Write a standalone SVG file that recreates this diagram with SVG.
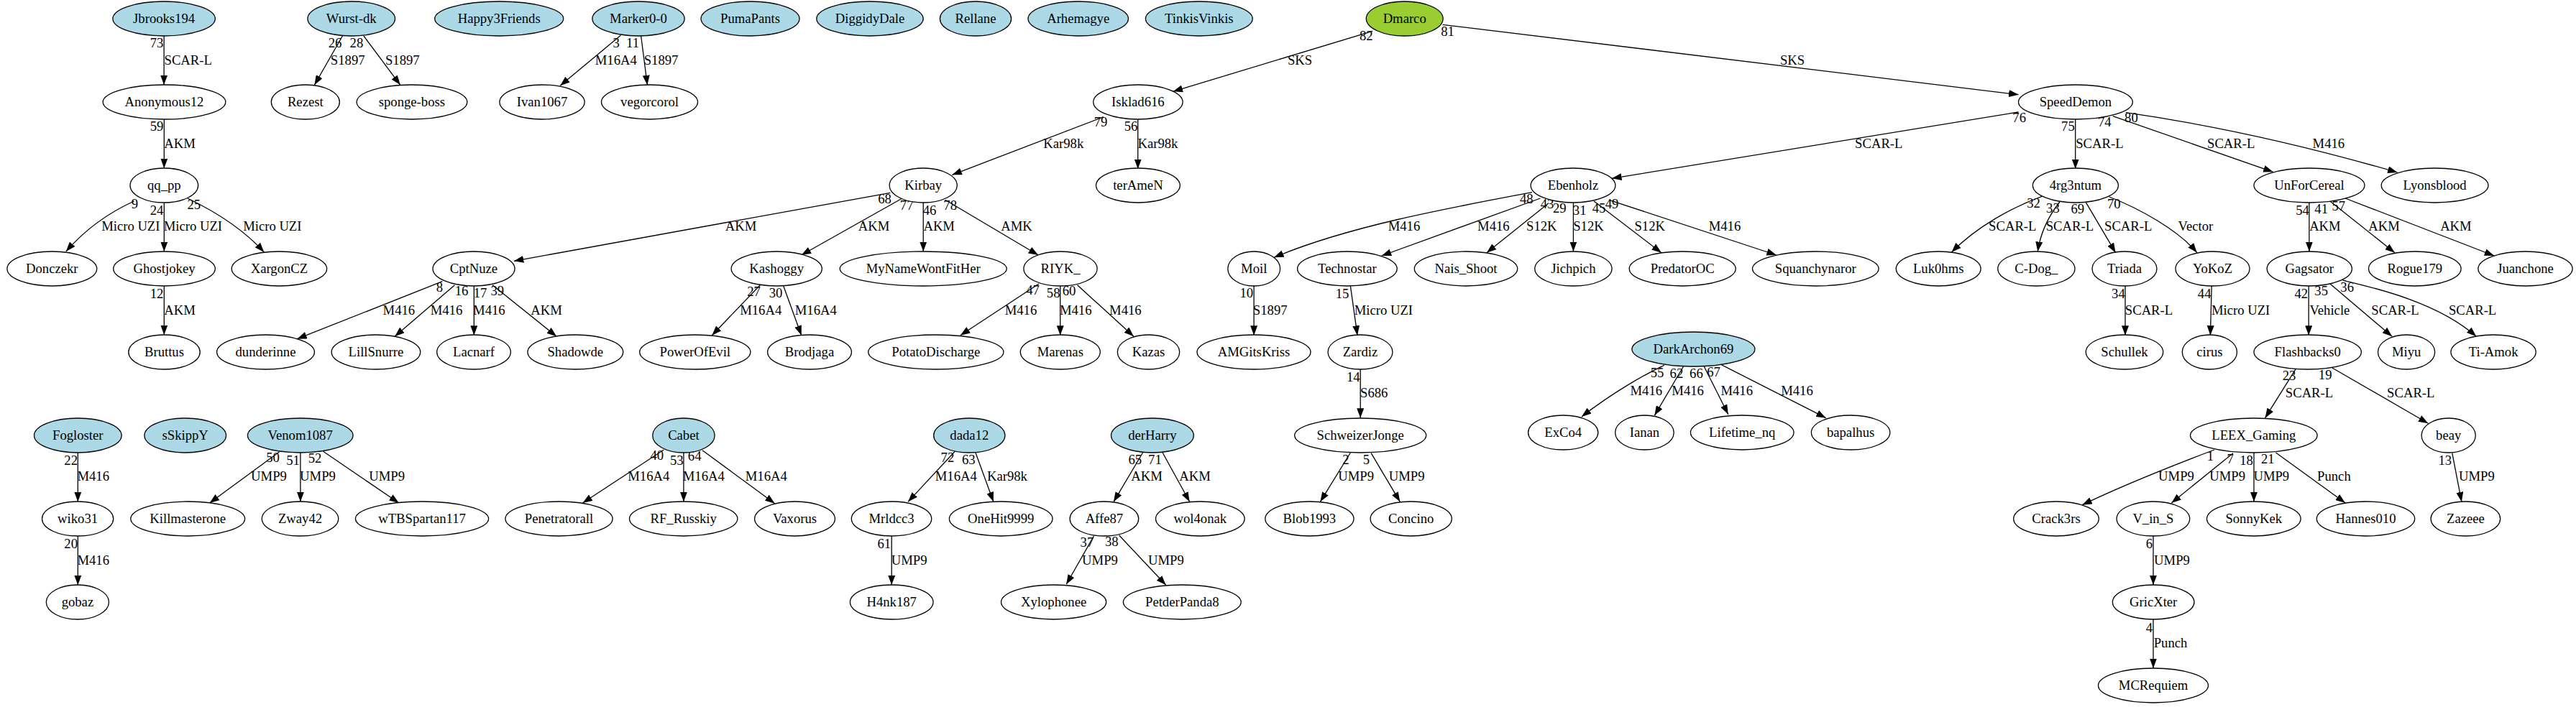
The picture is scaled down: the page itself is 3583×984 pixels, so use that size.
<svg xmlns="http://www.w3.org/2000/svg" width="3583" height="984" viewBox="0 0 3583 984">
<style>
text{font-family:"Liberation Serif","Times New Roman",serif;font-size:18.67px;fill:#000}
.n ellipse{fill:#fff;stroke:#000;stroke-width:1.3}
.lb ellipse{fill:#add8e6}
.yg ellipse{fill:#9acd32}
.n text,.l text{text-anchor:middle}
.e path{fill:none;stroke:#000;stroke-width:1.3;marker-end:url(#a)}
</style>
<defs>
<marker id="a" markerUnits="userSpaceOnUse" markerWidth="14" markerHeight="10" refX="13.5" refY="5" orient="auto"><path d="M0,0 L13.5,5 L0,10 Z" fill="#000"/></marker>
</defs>
<rect width="3583" height="984" fill="#fff"/>
<g id="edges" class="e">
<path d="M228.1,50 L228.1,118"/>
<path d="M228.3,166 L228.3,234"/>
<path d="M186.4,280 C160,292 125,312 91.8,350"/>
<path d="M228.3,282 L228.3,350"/>
<path d="M261,276 C290,290 335,315 367.3,351"/>
<path d="M228.3,398 L228.3,466"/>
<path d="M476.4,50 L437.4,118.3"/>
<path d="M505.9,50 L556.8,118.3"/>
<path d="M863.3,49.3 L779.1,119.3"/>
<path d="M891.6,50 L900.4,118.3"/>
<path d="M1909,43.3 L1631.6,127.3"/>
<path d="M2006.6,34.3 L2807.5,131.7"/>
<path d="M1534.8,162.7 L1324.4,243.3"/>
<path d="M1582.7,166 L1582.7,235"/>
<path d="M2807.5,156 L2242,248.3"/>
<path d="M2886.7,166 L2886.7,235"/>
<path d="M2938.8,161.7 L3161.7,239.3"/>
<path d="M2956.8,156.7 C3050,170 3180,195 3334.6,240"/>
<path d="M1238.3,268.3 L714.8,363.3"/>
<path d="M1253.6,276.7 L1114.7,355"/>
<path d="M1284.2,282 L1284.2,350"/>
<path d="M1314.8,278.3 L1444.1,355"/>
<path d="M2131,267.7 C2011,290 1872,316 1772.1,358.3"/>
<path d="M2142.5,276 L1921.7,356"/>
<path d="M2154,282.7 L2067.9,351.7"/>
<path d="M2188.4,282 L2188.4,350"/>
<path d="M2217.1,280 L2310.8,351.7"/>
<path d="M2238.1,278.3 L2470.8,355"/>
<path d="M2840,273.3 C2800,288 2750,315 2714.5,351"/>
<path d="M2864.9,281 C2850,300 2838,325 2834.3,350"/>
<path d="M2901.3,281.7 L2942.6,351.7"/>
<path d="M2933.8,274 C2975,290 3030,320 3055.8,351.7"/>
<path d="M3211.9,282 L3211.9,350"/>
<path d="M3240.9,280 L3330.9,351.7"/>
<path d="M3262.1,276 L3469.2,356"/>
<path d="M615.3,391.7 L413.3,471.7"/>
<path d="M632.5,396.7 L549.1,468.3"/>
<path d="M659.3,398 L659.3,466.7"/>
<path d="M685,396.7 L774.1,468.3"/>
<path d="M1057.3,396.7 L990.3,466.7"/>
<path d="M1089.8,398.3 L1114.7,466.7"/>
<path d="M1444.9,395 L1335.8,466.7"/>
<path d="M1474.7,398 L1474.7,466.7"/>
<path d="M1498.5,396.7 L1576.9,468.3"/>
<path d="M1744.1,398 L1744.1,466.7"/>
<path d="M1878.4,398.3 L1888,466.7"/>
<path d="M2956,398 L2956,466.7"/>
<path d="M3076.2,398.3 L3074.4,466.7"/>
<path d="M3211.2,398 L3211.2,466.7"/>
<path d="M3240.9,395 L3327.2,468.3"/>
<path d="M3258.4,390 C3300,400 3390,420 3444.3,468.3"/>
<path d="M108.3,630 L108.3,698.3"/>
<path d="M108.3,746 L108.3,814.3"/>
<path d="M388.4,629 L291.6,700"/>
<path d="M417.9,630 L417.9,698.3"/>
<path d="M449.6,628.3 L554.8,700"/>
<path d="M923.3,626 L810.5,700"/>
<path d="M950.9,630 L950.9,698.3"/>
<path d="M976.9,626.7 L1077.6,700.7"/>
<path d="M1328.2,628.3 L1263.1,698.3"/>
<path d="M1356.9,630 L1381.8,698.3"/>
<path d="M1240.2,746 L1240.2,814.3"/>
<path d="M1589.5,630 L1549,698.3"/>
<path d="M1617.1,630 L1654.6,698.3"/>
<path d="M1521.4,746 L1483.2,813.3"/>
<path d="M1556.6,745 L1621.7,814.3"/>
<path d="M1892.2,514 L1892.2,581.7"/>
<path d="M1878.4,630 L1836.4,698.3"/>
<path d="M1907.1,630.7 L1947.3,698.3"/>
<path d="M2314.7,508.3 C2290,520 2245,545 2199.9,580"/>
<path d="M2341.5,510 L2301.3,578.3"/>
<path d="M2370.2,510 L2403.8,576.7"/>
<path d="M2393,507 L2539.7,581.7"/>
<path d="M3193.3,513.3 L3150.6,581.7"/>
<path d="M3243.5,511.7 L3377.4,589.3"/>
<path d="M3080,626 C3030,645 2960,672 2896.3,702.7"/>
<path d="M3106,630.7 L3020.4,700"/>
<path d="M3135,630 L3135,698.3"/>
<path d="M3165.5,630 L3262.1,700"/>
<path d="M3410.8,630.7 L3423.9,698.3"/>
<path d="M2995,746 L2995,814.3"/>
<path d="M2995,862 L2995,930"/>
</g>
<g id="edge-labels" class="l">
<text x="261.7" y="89.6">SCAR-L</text>
<text x="250" y="206.3">AKM</text>
<text x="181.8" y="321.3">Micro UZI</text>
<text x="268.4" y="321.3">Micro UZI</text>
<text x="378.8" y="321.3">Micro UZI</text>
<text x="250" y="438">AKM</text>
<text x="483.7" y="89.6">S1897</text>
<text x="559.8" y="89.6">S1897</text>
<text x="856.8" y="89.6">M16A4</text>
<text x="919.6" y="89.6">S1897</text>
<text x="1808" y="89.6">SKS</text>
<text x="2493" y="89.6">SKS</text>
<text x="1479.3" y="206.3">Kar98k</text>
<text x="1610.4" y="206.3">Kar98k</text>
<text x="2613.3" y="206.3">SCAR-L</text>
<text x="2920.4" y="206.3">SCAR-L</text>
<text x="3103.2" y="206.3">SCAR-L</text>
<text x="3238.9" y="206.3">M416</text>
<text x="1030.5" y="321.3">AKM</text>
<text x="1215.5" y="321.3">AKM</text>
<text x="1306.2" y="321.3">AKM</text>
<text x="1414.1" y="321.3">AMK</text>
<text x="1953" y="321.3">M416</text>
<text x="2077.4" y="321.3">M416</text>
<text x="2144.3" y="321.3">S12K</text>
<text x="2209.5" y="321.3">S12K</text>
<text x="2294.7" y="321.3">S12K</text>
<text x="2399" y="321.3">M416</text>
<text x="2799.3" y="321.3">SCAR-L</text>
<text x="2878.9" y="321.3">SCAR-L</text>
<text x="2960.2" y="321.3">SCAR-L</text>
<text x="3053.9" y="321.3">Vector</text>
<text x="3233.9" y="321.3">AKM</text>
<text x="3316" y="321.3">AKM</text>
<text x="3415.9" y="321.3">AKM</text>
<text x="554.9" y="438">M416</text>
<text x="621" y="438">M416</text>
<text x="680.4" y="438">M416</text>
<text x="760" y="438">AKM</text>
<text x="1058.2" y="438">M16A4</text>
<text x="1134.8" y="438">M16A4</text>
<text x="1420" y="438">M416</text>
<text x="1496.2" y="438">M416</text>
<text x="1565.4" y="438">M416</text>
<text x="1766.7" y="438">S1897</text>
<text x="1924.4" y="438">Micro UZI</text>
<text x="2989" y="438">SCAR-L</text>
<text x="3116.6" y="438">Micro UZI</text>
<text x="3240.4" y="438">Vehicle</text>
<text x="3331.5" y="438">SCAR-L</text>
<text x="3439.1" y="438">SCAR-L</text>
<text x="129.7" y="669">M416</text>
<text x="129.7" y="785.6">M416</text>
<text x="374" y="669">UMP9</text>
<text x="442" y="669">UMP9</text>
<text x="538.2" y="669">UMP9</text>
<text x="902.3" y="669">M16A4</text>
<text x="978.8" y="669">M16A4</text>
<text x="1065.8" y="669">M16A4</text>
<text x="1329.8" y="669">M16A4</text>
<text x="1400.9" y="669">Kar98k</text>
<text x="1264.6" y="785.6">UMP9</text>
<text x="1595.1" y="669">AKM</text>
<text x="1662" y="669">AKM</text>
<text x="1530" y="785.6">UMP9</text>
<text x="1621.9" y="785.6">UMP9</text>
<text x="1911.2" y="553">S686</text>
<text x="1886.1" y="669">UMP9</text>
<text x="1956.7" y="669">UMP9</text>
<text x="2289.8" y="549.6">M416</text>
<text x="2347.6" y="549.6">M416</text>
<text x="2415.7" y="549.6">M416</text>
<text x="2499.5" y="549.6">M416</text>
<text x="3212" y="553">SCAR-L</text>
<text x="3353.3" y="553">SCAR-L</text>
<text x="3027" y="669">UMP9</text>
<text x="3098.2" y="669">UMP9</text>
<text x="3159.3" y="669">UMP9</text>
<text x="3246.4" y="669">Punch</text>
<text x="3444.9" y="669">UMP9</text>
<text x="3021" y="785.6">UMP9</text>
<text x="3019" y="901.3">Punch</text>
<text x="218.1" y="66.3">73</text>
<text x="218.1" y="182">59</text>
<text x="187.5" y="289.6">9</text>
<text x="218.1" y="299">24</text>
<text x="269.8" y="291.3">25</text>
<text x="218.1" y="414.6">12</text>
<text x="466.1" y="65.6">26</text>
<text x="495.9" y="65.6">28</text>
<text x="857.1" y="65.6">3</text>
<text x="880.1" y="66.3">11</text>
<text x="1900.3" y="56.3">82</text>
<text x="2013.5" y="49.6">81</text>
<text x="1531" y="175.6">79</text>
<text x="1573.1" y="182.3">56</text>
<text x="2808.7" y="170.3">76</text>
<text x="2876.4" y="182.3">75</text>
<text x="2927.3" y="176.3">74</text>
<text x="2964.4" y="170.3">80</text>
<text x="1230.6" y="283">68</text>
<text x="1261.2" y="292.3">77</text>
<text x="1293" y="299">46</text>
<text x="1321.7" y="292.3">78</text>
<text x="2123.3" y="283">48</text>
<text x="2152" y="289.6">43</text>
<text x="2169.3" y="295.6">29</text>
<text x="2197.2" y="299">31</text>
<text x="2224" y="296.3">45</text>
<text x="2242" y="289.6">49</text>
<text x="2828.6" y="289">32</text>
<text x="2855.4" y="296.3">33</text>
<text x="2889.8" y="297.3">69</text>
<text x="2940.3" y="289.6">70</text>
<text x="3202.6" y="299">54</text>
<text x="3228.7" y="297">41</text>
<text x="3252.8" y="293">57</text>
<text x="611.5" y="406.3">8</text>
<text x="642.1" y="411.3">16</text>
<text x="668.1" y="413.6">17</text>
<text x="691.8" y="411.3">39</text>
<text x="1048.5" y="412.3">27</text>
<text x="1079.1" y="413.6">30</text>
<text x="1436.5" y="410.3">47</text>
<text x="1465.2" y="413.6">58</text>
<text x="1487" y="411.3">60</text>
<text x="1733.8" y="413.6">10</text>
<text x="1867" y="414.6">15</text>
<text x="2946.4" y="414.6">34</text>
<text x="3066.2" y="414.6">44</text>
<text x="3200.8" y="414.6">42</text>
<text x="3228.7" y="411.3">35</text>
<text x="3264.7" y="405.6">36</text>
<text x="98.7" y="647.3">22</text>
<text x="98.7" y="763">20</text>
<text x="379.6" y="643">50</text>
<text x="407.5" y="647">51</text>
<text x="438.1" y="643.6">52</text>
<text x="913.8" y="640.3">40</text>
<text x="941.3" y="647">53</text>
<text x="966.2" y="641.3">64</text>
<text x="1317.9" y="643">72</text>
<text x="1347.3" y="645.6">63</text>
<text x="1229.8" y="763">61</text>
<text x="1578.8" y="645.6">65</text>
<text x="1606.4" y="645.6">71</text>
<text x="1511.9" y="760.6">37</text>
<text x="1546.3" y="759.6">38</text>
<text x="1882.3" y="530.6">14</text>
<text x="1871.9" y="645.6">2</text>
<text x="1900.3" y="645.6">5</text>
<text x="2305.1" y="524.6">55</text>
<text x="2331.9" y="525.6">62</text>
<text x="2359.4" y="525.6">66</text>
<text x="2383.5" y="523.6">67</text>
<text x="3184" y="529">23</text>
<text x="3234.2" y="528">19</text>
<text x="3074.4" y="641.3">1</text>
<text x="3102.2" y="644.6">7</text>
<text x="3124.6" y="647">18</text>
<text x="3154.3" y="644.6">21</text>
<text x="3400.8" y="647">13</text>
<text x="2989.3" y="763">6</text>
<text x="2989.3" y="879.6">4</text>
</g>
<g id="n-Jbrooks194" class="n lb"><ellipse cx="228.1" cy="26" rx="71.2" ry="24"/><text x="228.1" y="32.3">Jbrooks194</text></g>
<g id="n-Wurst-dk" class="n lb"><ellipse cx="488.7" cy="26" rx="60.8" ry="24"/><text x="488.7" y="32.3">Wurst-dk</text></g>
<g id="n-Happy3Friends" class="n lb"><ellipse cx="694.2" cy="26" rx="89.5" ry="24"/><text x="694.2" y="32.3">Happy3Friends</text></g>
<g id="n-Marker0-0" class="n lb"><ellipse cx="888" cy="26" rx="64.1" ry="24"/><text x="888" y="32.3">Marker0-0</text></g>
<g id="n-PumaPants" class="n lb"><ellipse cx="1043.5" cy="26" rx="68.5" ry="24"/><text x="1043.5" y="32.3">PumaPants</text></g>
<g id="n-DiggidyDale" class="n lb"><ellipse cx="1210" cy="26" rx="74.2" ry="24"/><text x="1210" y="32.3">DiggidyDale</text></g>
<g id="n-Rellane" class="n lb"><ellipse cx="1357" cy="26" rx="49.6" ry="24"/><text x="1357" y="32.3">Rellane</text></g>
<g id="n-Arhemagye" class="n lb"><ellipse cx="1499.7" cy="26" rx="69.7" ry="24"/><text x="1499.7" y="32.3">Arhemagye</text></g>
<g id="n-TinkisVinkis" class="n lb"><ellipse cx="1667.8" cy="26" rx="74.4" ry="24"/><text x="1667.8" y="32.3">TinkisVinkis</text></g>
<g id="n-Dmarco" class="n yg"><ellipse cx="1953.7" cy="26" rx="53.4" ry="24"/><text x="1953.7" y="32.3">Dmarco</text></g>
<g id="n-Anonymous12" class="n"><ellipse cx="228.5" cy="142" rx="85.3" ry="24"/><text x="228.5" y="148.3">Anonymous12</text></g>
<g id="n-Rezest" class="n"><ellipse cx="424.8" cy="142" rx="47.5" ry="24"/><text x="424.8" y="148.3">Rezest</text></g>
<g id="n-sponge-boss" class="n"><ellipse cx="572.9" cy="142" rx="76.9" ry="24"/><text x="572.9" y="148.3">sponge-boss</text></g>
<g id="n-Ivan1067" class="n"><ellipse cx="754" cy="142" rx="59.1" ry="24"/><text x="754" y="148.3">Ivan1067</text></g>
<g id="n-vegorcorol" class="n"><ellipse cx="903.5" cy="142" rx="67" ry="24"/><text x="903.5" y="148.3">vegorcorol</text></g>
<g id="n-Isklad616" class="n"><ellipse cx="1582.9" cy="142" rx="62.2" ry="24"/><text x="1582.9" y="148.3">Isklad616</text></g>
<g id="n-SpeedDemon" class="n"><ellipse cx="2886.9" cy="142" rx="79.4" ry="24"/><text x="2886.9" y="148.3">SpeedDemon</text></g>
<g id="n-qq_pp" class="n"><ellipse cx="228.3" cy="258" rx="47.3" ry="24"/><text x="228.3" y="264.3">qq_pp</text></g>
<g id="n-Kirbay" class="n"><ellipse cx="1284.2" cy="258" rx="47.1" ry="24"/><text x="1284.2" y="264.3">Kirbay</text></g>
<g id="n-terAmeN" class="n"><ellipse cx="1582.9" cy="258" rx="58.4" ry="24"/><text x="1582.9" y="264.3">terAmeN</text></g>
<g id="n-Ebenholz" class="n"><ellipse cx="2188" cy="258" rx="58.9" ry="24"/><text x="2188" y="264.3">Ebenholz</text></g>
<g id="n-4rg3ntum" class="n"><ellipse cx="2886.9" cy="258" rx="59.5" ry="24"/><text x="2886.9" y="264.3">4rg3ntum</text></g>
<g id="n-UnForCereal" class="n"><ellipse cx="3212" cy="258" rx="77" ry="24"/><text x="3212" y="264.3">UnForCereal</text></g>
<g id="n-Lyonsblood" class="n"><ellipse cx="3386.6" cy="258" rx="74.4" ry="24"/><text x="3386.6" y="264.3">Lyonsblood</text></g>
<g id="n-Donczekr" class="n"><ellipse cx="72.3" cy="374" rx="62.4" ry="24"/><text x="72.3" y="380.3">Donczekr</text></g>
<g id="n-Ghostjokey" class="n"><ellipse cx="228.5" cy="374" rx="70.8" ry="24"/><text x="228.5" y="380.3">Ghostjokey</text></g>
<g id="n-XargonCZ" class="n"><ellipse cx="388.4" cy="374" rx="66.2" ry="24"/><text x="388.4" y="380.3">XargonCZ</text></g>
<g id="n-CptNuze" class="n"><ellipse cx="659" cy="374" rx="57" ry="24"/><text x="659" y="380.3">CptNuze</text></g>
<g id="n-Kashoggy" class="n"><ellipse cx="1080.2" cy="374" rx="63.1" ry="24"/><text x="1080.2" y="380.3">Kashoggy</text></g>
<g id="n-MyNameWontFitHer" class="n"><ellipse cx="1284.2" cy="374" rx="116" ry="24"/><text x="1284.2" y="380.3">MyNameWontFitHer</text></g>
<g id="n-RIYK_" class="n"><ellipse cx="1475" cy="374" rx="51.1" ry="24"/><text x="1475" y="380.3">RIYK_</text></g>
<g id="n-Moil" class="n"><ellipse cx="1744.2" cy="374" rx="36.4" ry="24"/><text x="1744.2" y="380.3">Moil</text></g>
<g id="n-Technostar" class="n"><ellipse cx="1873.9" cy="374" rx="69.3" ry="24"/><text x="1873.9" y="380.3">Technostar</text></g>
<g id="n-Nais_Shoot" class="n"><ellipse cx="2039" cy="374" rx="71.7" ry="24"/><text x="2039" y="380.3">Nais_Shoot</text></g>
<g id="n-Jichpich" class="n"><ellipse cx="2188.4" cy="374" rx="53.6" ry="24"/><text x="2188.4" y="380.3">Jichpich</text></g>
<g id="n-PredatorOC" class="n"><ellipse cx="2340.2" cy="374" rx="74" ry="24"/><text x="2340.2" y="380.3">PredatorOC</text></g>
<g id="n-Squanchynaror" class="n"><ellipse cx="2525.3" cy="374" rx="87.8" ry="24"/><text x="2525.3" y="380.3">Squanchynaror</text></g>
<g id="n-Luk0hms" class="n"><ellipse cx="2696.2" cy="374" rx="58.9" ry="24"/><text x="2696.2" y="380.3">Luk0hms</text></g>
<g id="n-C-Dog_" class="n"><ellipse cx="2832.4" cy="374" rx="53.6" ry="24"/><text x="2832.4" y="380.3">C-Dog_</text></g>
<g id="n-Triada" class="n"><ellipse cx="2955" cy="374" rx="45" ry="24"/><text x="2955" y="380.3">Triada</text></g>
<g id="n-YoKoZ" class="n"><ellipse cx="3077.5" cy="374" rx="51.5" ry="24"/><text x="3077.5" y="380.3">YoKoZ</text></g>
<g id="n-Gagsator" class="n"><ellipse cx="3212.3" cy="374" rx="59.1" ry="24"/><text x="3212.3" y="380.3">Gagsator</text></g>
<g id="n-Rogue179" class="n"><ellipse cx="3358.8" cy="374" rx="64.3" ry="24"/><text x="3358.8" y="380.3">Rogue179</text></g>
<g id="n-Juanchone" class="n"><ellipse cx="3512.5" cy="374" rx="65.6" ry="24"/><text x="3512.5" y="380.3">Juanchone</text></g>
<g id="n-Bruttus" class="n"><ellipse cx="228.5" cy="490" rx="49.7" ry="24"/><text x="228.5" y="496.3">Bruttus</text></g>
<g id="n-dunderinne" class="n"><ellipse cx="369.5" cy="490" rx="67.9" ry="24"/><text x="369.5" y="496.3">dunderinne</text></g>
<g id="n-LillSnurre" class="n"><ellipse cx="522.9" cy="490" rx="61.8" ry="24"/><text x="522.9" y="496.3">LillSnurre</text></g>
<g id="n-Lacnarf" class="n"><ellipse cx="659" cy="490" rx="51.3" ry="24"/><text x="659" y="496.3">Lacnarf</text></g>
<g id="n-Shadowde" class="n"><ellipse cx="800.3" cy="490" rx="66.4" ry="24"/><text x="800.3" y="496.3">Shadowde</text></g>
<g id="n-PowerOfEvil" class="n"><ellipse cx="966.8" cy="490" rx="77.1" ry="24"/><text x="966.8" y="496.3">PowerOfEvil</text></g>
<g id="n-Brodjaga" class="n"><ellipse cx="1126" cy="490" rx="58.4" ry="24"/><text x="1126" y="496.3">Brodjaga</text></g>
<g id="n-PotatoDischarge" class="n"><ellipse cx="1301.8" cy="490" rx="94.1" ry="24"/><text x="1301.8" y="496.3">PotatoDischarge</text></g>
<g id="n-Marenas" class="n"><ellipse cx="1474.8" cy="490" rx="55.5" ry="24"/><text x="1474.8" y="496.3">Marenas</text></g>
<g id="n-Kazas" class="n"><ellipse cx="1597.5" cy="490" rx="43.2" ry="24"/><text x="1597.5" y="496.3">Kazas</text></g>
<g id="n-AMGitsKriss" class="n"><ellipse cx="1744" cy="490" rx="79" ry="24"/><text x="1744" y="496.3">AMGitsKriss</text></g>
<g id="n-Zardiz" class="n"><ellipse cx="1892" cy="490" rx="45" ry="24"/><text x="1892" y="496.3">Zardiz</text></g>
<g id="n-DarkArchon69" class="n lb"><ellipse cx="2355.4" cy="486" rx="85.5" ry="24"/><text x="2355.4" y="492.3">DarkArchon69</text></g>
<g id="n-Schullek" class="n"><ellipse cx="2955" cy="490" rx="53.7" ry="24"/><text x="2955" y="496.3">Schullek</text></g>
<g id="n-cirus" class="n"><ellipse cx="3073.4" cy="490" rx="38.1" ry="24"/><text x="3073.4" y="496.3">cirus</text></g>
<g id="n-Flashbacks0" class="n"><ellipse cx="3209.7" cy="490" rx="74.7" ry="24"/><text x="3209.7" y="496.3">Flashbacks0</text></g>
<g id="n-Miyu" class="n"><ellipse cx="3347.1" cy="490" rx="39.6" ry="24"/><text x="3347.1" y="496.3">Miyu</text></g>
<g id="n-Ti-Amok" class="n"><ellipse cx="3468.1" cy="490" rx="59.1" ry="24"/><text x="3468.1" y="496.3">Ti-Amok</text></g>
<g id="n-Fogloster" class="n lb"><ellipse cx="108.3" cy="606" rx="60.8" ry="24"/><text x="108.3" y="612.3">Fogloster</text></g>
<g id="n-sSkippY" class="n lb"><ellipse cx="257.7" cy="606" rx="56.8" ry="24"/><text x="257.7" y="612.3">sSkippY</text></g>
<g id="n-Venom1087" class="n lb"><ellipse cx="417.7" cy="606" rx="73.3" ry="24"/><text x="417.7" y="612.3">Venom1087</text></g>
<g id="n-Cabet" class="n lb"><ellipse cx="950.9" cy="606" rx="43.2" ry="24"/><text x="950.9" y="612.3">Cabet</text></g>
<g id="n-dada12" class="n lb"><ellipse cx="1348.3" cy="606" rx="49.6" ry="24"/><text x="1348.3" y="612.3">dada12</text></g>
<g id="n-derHarry" class="n lb"><ellipse cx="1602.9" cy="606" rx="57.4" ry="24"/><text x="1602.9" y="612.3">derHarry</text></g>
<g id="n-SchweizerJonge" class="n"><ellipse cx="1892.2" cy="606" rx="91.5" ry="24"/><text x="1892.2" y="612.3">SchweizerJonge</text></g>
<g id="n-ExCo4" class="n"><ellipse cx="2174.2" cy="602" rx="48.6" ry="24"/><text x="2174.2" y="608.3">ExCo4</text></g>
<g id="n-Ianan" class="n"><ellipse cx="2287.4" cy="602" rx="40.8" ry="24"/><text x="2287.4" y="608.3">Ianan</text></g>
<g id="n-Lifetime_nq" class="n"><ellipse cx="2423.2" cy="602" rx="71.8" ry="24"/><text x="2423.2" y="608.3">Lifetime_nq</text></g>
<g id="n-bapalhus" class="n"><ellipse cx="2574.1" cy="602" rx="54.7" ry="24"/><text x="2574.1" y="608.3">bapalhus</text></g>
<g id="n-LEEX_Gaming" class="n"><ellipse cx="3134.8" cy="606" rx="88.3" ry="24"/><text x="3134.8" y="612.3">LEEX_Gaming</text></g>
<g id="n-beay" class="n"><ellipse cx="3405.7" cy="606" rx="37.6" ry="24"/><text x="3405.7" y="612.3">beay</text></g>
<g id="n-wiko31" class="n"><ellipse cx="108.1" cy="722" rx="49.6" ry="24"/><text x="108.1" y="728.3">wiko31</text></g>
<g id="n-Killmasterone" class="n"><ellipse cx="261.2" cy="722" rx="79.4" ry="24"/><text x="261.2" y="728.3">Killmasterone</text></g>
<g id="n-Zway42" class="n"><ellipse cx="417.5" cy="722" rx="53.2" ry="24"/><text x="417.5" y="728.3">Zway42</text></g>
<g id="n-wTBSpartan117" class="n"><ellipse cx="587" cy="722" rx="92.6" ry="24"/><text x="587" y="728.3">wTBSpartan117</text></g>
<g id="n-Penetratorall" class="n"><ellipse cx="777.5" cy="722" rx="74.6" ry="24"/><text x="777.5" y="728.3">Penetratorall</text></g>
<g id="n-RF_Russkiy" class="n"><ellipse cx="950.7" cy="722" rx="75.2" ry="24"/><text x="950.7" y="728.3">RF_Russkiy</text></g>
<g id="n-Vaxorus" class="n"><ellipse cx="1105.5" cy="722" rx="55.9" ry="24"/><text x="1105.5" y="728.3">Vaxorus</text></g>
<g id="n-Mrldcc3" class="n"><ellipse cx="1240" cy="722" rx="55.7" ry="24"/><text x="1240" y="728.3">Mrldcc3</text></g>
<g id="n-OneHit9999" class="n"><ellipse cx="1392.2" cy="722" rx="71.8" ry="24"/><text x="1392.2" y="728.3">OneHit9999</text></g>
<g id="n-Affe87" class="n"><ellipse cx="1535.9" cy="722" rx="47.8" ry="24"/><text x="1535.9" y="728.3">Affe87</text></g>
<g id="n-wol4onak" class="n"><ellipse cx="1669.3" cy="722" rx="61.8" ry="24"/><text x="1669.3" y="728.3">wol4onak</text></g>
<g id="n-Blob1993" class="n"><ellipse cx="1821.4" cy="722" rx="61.6" ry="24"/><text x="1821.4" y="728.3">Blob1993</text></g>
<g id="n-Concino" class="n"><ellipse cx="1962.7" cy="722" rx="56.6" ry="24"/><text x="1962.7" y="728.3">Concino</text></g>
<g id="n-Crack3rs" class="n"><ellipse cx="2860" cy="722" rx="59.3" ry="24"/><text x="2860" y="728.3">Crack3rs</text></g>
<g id="n-V_in_S" class="n"><ellipse cx="2994.9" cy="722" rx="50.8" ry="24"/><text x="2994.9" y="728.3">V_in_S</text></g>
<g id="n-SonnyKek" class="n"><ellipse cx="3134.8" cy="722" rx="65.3" ry="24"/><text x="3134.8" y="728.3">SonnyKek</text></g>
<g id="n-Hannes010" class="n"><ellipse cx="3290.5" cy="722" rx="68.2" ry="24"/><text x="3290.5" y="728.3">Hannes010</text></g>
<g id="n-Zazeee" class="n"><ellipse cx="3429.4" cy="722" rx="48.3" ry="24"/><text x="3429.4" y="728.3">Zazeee</text></g>
<g id="n-gobaz" class="n"><ellipse cx="107.9" cy="838" rx="43.6" ry="24"/><text x="107.9" y="844.3">gobaz</text></g>
<g id="n-H4nk187" class="n"><ellipse cx="1240.2" cy="838" rx="57.8" ry="24"/><text x="1240.2" y="844.3">H4nk187</text></g>
<g id="n-Xylophonee" class="n"><ellipse cx="1465.6" cy="838" rx="73.1" ry="24"/><text x="1465.6" y="844.3">Xylophonee</text></g>
<g id="n-PetderPanda8" class="n"><ellipse cx="1644.3" cy="838" rx="81.9" ry="24"/><text x="1644.3" y="844.3">PetderPanda8</text></g>
<g id="n-GricXter" class="n"><ellipse cx="2995.2" cy="838" rx="56.8" ry="24"/><text x="2995.2" y="844.3">GricXter</text></g>
<g id="n-MCRequiem" class="n"><ellipse cx="2995" cy="954" rx="76.5" ry="24"/><text x="2995" y="960.3">MCRequiem</text></g>
</svg>
